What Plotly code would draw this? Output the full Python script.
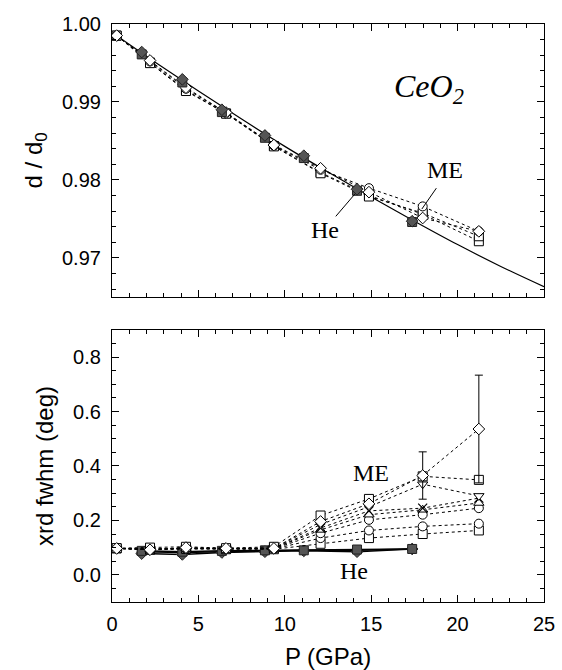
import plotly.graph_objects as go

# ---------------- data ----------------
P_me = [0.27, 2.2, 4.28, 6.6, 9.37, 12.07, 14.87, 17.98, 21.23]
P_he = [1.72, 4.07, 6.36, 8.85, 11.1, 14.18, 17.37]

# top panel: d/d0
top_me_diamond = [0.99851, 0.99532, 0.99183, 0.98864, 0.98447, 0.98149, 0.97843, 0.97511, 0.97340]
top_me_circle = [0.99851, 0.99520, 0.99170, 0.98860, 0.98440, 0.98130, 0.97894, 0.97660, 0.97340]
top_me_square = [0.99851, 0.99498, 0.99140, 0.98850, 0.98430, 0.98085, 0.97787, 0.97574, 0.97277]
top_me_square2 = [0.99851, 0.99505, 0.99150, 0.98852, 0.98435, 0.98095, 0.97800, 0.97560, 0.97213]
top_he_square = [0.9961, 0.9925, 0.9887, 0.9854, 0.9828, 0.9786, 0.9746]
top_he_diamond = [0.9964, 0.9929, 0.9890, 0.9857, 0.9831, 0.9788, 0.9747]
fit_P = [0, 2.5, 5, 7.5, 10, 12.5, 15, 17.5, 20, 22.5, 25]
fit_d = [0.9989, 0.9951, 0.9914, 0.9878, 0.9843, 0.9810, 0.9778, 0.9747, 0.9717, 0.9689, 0.9663]

# bottom panel: xrd fwhm (deg)
b_diamond = [0.097, 0.092, 0.100, 0.097, 0.097, 0.196, 0.261, 0.365, 0.536]
b_diamond_err = [0, 0, 0, 0, 0, 0, 0, 0.087, 0.198]
b_square = [0.098, 0.100, 0.103, 0.098, 0.103, 0.218, 0.279, 0.362, 0.349]
b_invtri = [0.097, 0.095, 0.098, 0.097, 0.098, 0.185, 0.250, 0.333, 0.290]
b_cross = [0.097, 0.093, 0.097, 0.095, 0.097, 0.172, 0.235, 0.245, 0.282]
b_tri = [0.097, 0.094, 0.098, 0.096, 0.097, 0.165, 0.221, 0.239, 0.264]
b_circle = [0.097, 0.094, 0.097, 0.096, 0.096, 0.153, 0.202, 0.221, 0.245]
b_circle2 = [0.097, 0.093, 0.096, 0.095, 0.095, 0.135, 0.163, 0.178, 0.188]
b_square2 = [0.097, 0.092, 0.095, 0.094, 0.094, 0.114, 0.135, 0.150, 0.163]
b_he_square = [0.088, 0.085, 0.088, 0.090, 0.090, 0.093, 0.095]
b_he_diamond = [0.078, 0.075, 0.082, 0.085, 0.088, 0.085, 0.095]
b_he_circle = [0.085, 0.082, 0.085, 0.088, 0.090, 0.090, 0.095]

x_ticks = [0, 5, 10, 15, 20, 25]
top_y_ticks = [0.97, 0.98, 0.99, 1.00]
bot_y_ticks = [0.0, 0.2, 0.4, 0.6, 0.8]

# ---------------- figure ----------------
fig = go.Figure()
OPEN = dict(color="white", line=dict(color="black", width=1))
HEF = dict(color="#555555", line=dict(color="#222222", width=1))

# top panel
fig.add_trace(go.Scatter(x=fit_P, y=fit_d, mode="lines", line=dict(color="black", width=1.2, shape="spline"),
                         xaxis="x", yaxis="y", showlegend=False))
for ys, sym in [(top_me_square2, "square"), (top_me_square, "square"), (top_me_circle, "circle"),
                (top_me_diamond, "diamond")]:
    fig.add_trace(go.Scatter(x=P_me, y=ys, mode="lines+markers", line=dict(color="black", width=1, dash="dot"),
                             marker=dict(symbol=sym, size=9, **OPEN), xaxis="x", yaxis="y", showlegend=False))
for ys, sym in [(top_he_square, "square"), (top_he_diamond, "diamond")]:
    fig.add_trace(go.Scatter(x=P_he, y=ys, mode="markers",
                             marker=dict(symbol=sym, size=9, **HEF), xaxis="x", yaxis="y", showlegend=False))

# bottom panel
for ys, sym in [(b_he_circle, "circle"), (b_he_diamond, "diamond"), (b_he_square, "square")]:
    fig.add_trace(go.Scatter(x=P_he, y=ys, mode="lines+markers", line=dict(color="black", width=1.5),
                             marker=dict(symbol=sym, size=9, **HEF), xaxis="x2", yaxis="y2", showlegend=False))
for ys, sym in [(b_square2, "square"), (b_circle2, "circle"), (b_circle, "circle"), (b_tri, "triangle-up"),
                (b_cross, "x-thin"), (b_invtri, "triangle-down"), (b_square, "square")]:
    mk = dict(symbol=sym, size=9, **OPEN)
    if sym == "x-thin":
        mk = dict(symbol=sym, size=9, line=dict(color="black", width=1.2))
    fig.add_trace(go.Scatter(x=P_me, y=ys, mode="lines+markers", line=dict(color="black", width=1, dash="dot"),
                             marker=mk, xaxis="x2", yaxis="y2", showlegend=False))
fig.add_trace(go.Scatter(x=P_me, y=b_diamond, mode="lines+markers", line=dict(color="black", width=1, dash="dot"),
                         marker=dict(symbol="diamond", size=9, **OPEN),
                         error_y=dict(type="data", array=b_diamond_err, color="black", thickness=1, width=4),
                         xaxis="x2", yaxis="y2", showlegend=False))

SANS = "Liberation Sans, Arial"
axis_common = dict(showline=True, linecolor="black", linewidth=1.2, mirror="ticks", ticks="inside",
                   ticklen=7, tickcolor="black", showgrid=False, zeroline=False, automargin=False,
                   tickfont=dict(family=SANS, size=20, color="black"))
title_font = dict(family=SANS, size=24, color="black")

fig.update_layout(
    width=562, height=670,
    margin=dict(l=112, r=18, t=24, b=68),
    paper_bgcolor="white", plot_bgcolor="white",
    font=dict(family=SANS, color="black"),
    xaxis=dict(domain=[0, 1], anchor="y", range=[0, 25], tickvals=x_ticks, showticklabels=False,
               minor=dict(dtick=1, ticks="inside", ticklen=4, tickcolor="black"), **axis_common),
    yaxis=dict(domain=[0.528, 1], anchor="x", range=[0.965, 1.0], tickvals=top_y_ticks,
               tickformat=".2f", ticklabelstandoff=6,
               minor=dict(dtick=0.002, tick0=0.96, ticks="inside", ticklen=4, tickcolor="black"),
               title=dict(text="d / d<sub>0</sub>", font=title_font, standoff=12),
               **axis_common),
    xaxis2=dict(domain=[0, 1], anchor="y2", range=[0, 25], tickvals=x_ticks, ticklabelstandoff=4,
                minor=dict(dtick=1, ticks="inside", ticklen=4, tickcolor="black"),
                title=dict(text="P (GPa)", font=title_font, standoff=14),
                **axis_common),
    yaxis2=dict(domain=[0, 0.4706], anchor="x2", range=[-0.1, 0.9], tickvals=bot_y_ticks,
                tickformat=".1f", ticklabelstandoff=6,
                minor=dict(dtick=0.05, tick0=0, ticks="inside", ticklen=4, tickcolor="black"),
                title=dict(text="xrd fwhm (deg)", font=title_font, standoff=12),
                **axis_common),
)

serif = dict(family="Liberation Serif, Times New Roman", color="black")
fig.add_annotation(x=18.35, y=0.9917, xref="x", yref="y", text="<i>CeO<sub>2</sub></i>", showarrow=False,
                   font=dict(size=32, **serif))
fig.add_annotation(x=19.28, y=0.98128, xref="x", yref="y", text="ME", showarrow=False, font=dict(size=24, **serif))
fig.add_annotation(x=12.32, y=0.97362, xref="x", yref="y", text="He", showarrow=False, font=dict(size=24, **serif))
fig.add_annotation(x=15.0, y=0.375, xref="x2", yref="y2", text="ME", showarrow=False, font=dict(size=24, **serif))
fig.add_annotation(x=14.0, y=0.015, xref="x2", yref="y2", text="He", showarrow=False, font=dict(size=24, **serif))

fig.add_shape(type="line", xref="x", yref="y", x0=18.77, y0=0.97894, x1=17.93, y1=0.97626,
              line=dict(color="black", width=1))
fig.add_shape(type="line", xref="x", yref="y", x0=12.95, y0=0.97532, x1=14.05, y1=0.97817,
              line=dict(color="black", width=1))

fig.write_html("out.html", config={"displayModeBar": False},
               post_script="document.body.style.margin='0px';")
